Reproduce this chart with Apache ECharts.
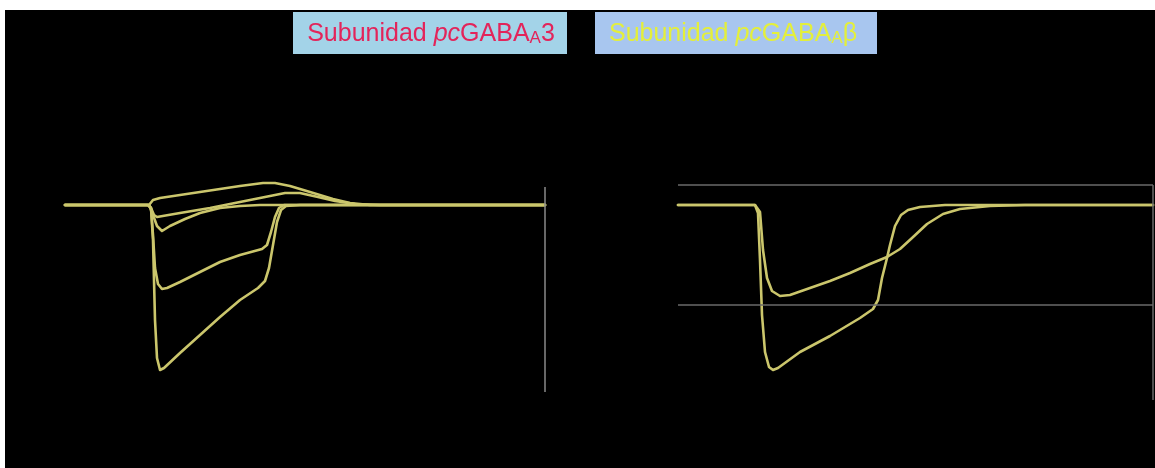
<!DOCTYPE html>
<html>
<head>
<meta charset="utf-8">
<style>
  html, body { margin: 0; padding: 0; background: #fff; }
  #chart { width: 1155px; height: 468px; }
</style>
<script src="https://cdn.jsdelivr.net/npm/echarts@6/dist/echarts.min.js"></script>
</head>
<body>
<div id="chart"></div>
<script>
// Current traces: [time (s), current (nA)]
// Left panel: pcGABAA3 subunit, five agonist applications
const a3Trace1 = [[0,0],[8.4,0],[8.5,5],[8.8,25],[9.5,35],[13.5,65],[17.5,95],[19.8,110],[21.0,110],[22.5,95],[24.5,65],[26.8,30],[28.5,10],[30.5,0],[48,0]];
const a3Trace2 = [[0,0],[8.4,0],[8.6,-15],[8.9,-50],[9.2,-60],[11.5,-40],[14.5,-15],[16.5,5],[19.5,35],[22.0,60],[23.5,60],[25.3,40],[27.0,20],[29.0,5],[31.5,0],[48,0]];
const a3Trace3 = [[0,0],[8.4,0],[8.5,-10],[8.8,-50],[9.2,-105],[9.7,-130],[10.5,-105],[12.0,-70],[13.5,-40],[15.5,-15],[17.5,-5],[19.5,0],[48,0]];
const a3Trace4 = [[0,0],[8.3,0],[8.6,-15],[8.8,-150],[9.0,-315],[9.3,-395],[9.7,-420],[10.2,-415],[11.5,-385],[13.5,-335],[15.5,-285],[17.5,-250],[19.7,-220],[20.2,-200],[20.6,-135],[21.0,-60],[21.4,-15],[21.9,0],[48,0]];
const a3Trace5 = [[0,0],[8.3,0],[8.6,-15],[8.8,-175],[9.0,-575],[9.2,-765],[9.5,-825],[9.9,-815],[11.5,-740],[13.5,-650],[15.5,-560],[17.5,-475],[19.3,-415],[20.0,-380],[20.4,-315],[20.8,-200],[21.2,-85],[21.6,-25],[22.1,-5],[23.5,0],[48,0]];

// Right panel: pcGABAAβ subunit, two agonist applications
const abTrace1 = [[0,0],[7.7,0],[8.0,-40],[8.2,-275],[8.4,-550],[8.7,-735],[9.1,-810],[9.5,-825],[10.0,-815],[12.2,-735],[15.2,-655],[18.2,-565],[19.5,-520],[20.0,-475],[20.4,-365],[20.9,-265],[21.2,-200],[21.7,-105],[22.3,-50],[23.0,-25],[24.2,-10],[26.7,0],[47.5,0]];
const abTrace2 = [[0,0],[7.7,0],[8.2,-35],[8.5,-225],[8.9,-365],[9.4,-430],[10.2,-455],[11.2,-450],[13.2,-415],[15.2,-380],[17.2,-340],[19.2,-295],[20.9,-260],[22.2,-220],[23.4,-165],[24.9,-95],[26.5,-45],[28.2,-20],[31.2,-5],[34.7,0],[47.5,0]];

// Reference rules
const a3ScaleBar = [48, 90, -935];          // vertical rule: time, top, bottom
const abLevels = [100, -500];               // horizontal reference currents
const abScaleBar = [47.5, 100, -975];

const titleA3 = ['Subunidad ', 'pc', 'GABA', 'A', '3'];
const titleAb = ['Subunidad ', 'pc', 'GABA', 'A', 'β'];

const traceColor = '#cbc66c';
const ruleColor = '#6a6a6a';

function traceSeries(data, gridIndex, extra) {
  return Object.assign({
    type: 'line',
    data: data,
    xAxisIndex: gridIndex,
    yAxisIndex: gridIndex,
    showSymbol: false,
    smooth: false,
    clip: false,
    silent: true,
    lineStyle: { color: traceColor, width: 2.6, join: 'round', cap: 'round' }
  }, extra || {});
}

function rule(x1, y1, x2, y2) {
  return [{ coord: [x1, y1] }, { coord: [x2, y2] }];
}

const hiddenAxis = {
  type: 'value',
  axisLine: { show: false },
  axisTick: { show: false },
  axisLabel: { show: false },
  splitLine: { show: false }
};

const chart = echarts.init(document.getElementById('chart'), null, { renderer: 'canvas' });

function rich(color) {
  const base = { fill: color, fontSize: 25, fontFamily: 'Liberation Sans, Arial, sans-serif' };
  return {
    r: Object.assign({}, base),
    i: Object.assign({}, base, { fontStyle: 'italic' }),
    s: Object.assign({}, base, { fontSize: 17, verticalAlign: 'bottom' })
  };
}
function richText(parts) {
  return '{r|' + parts[0] + '}{i|' + parts[1] + '}{r|' + parts[2] + '}{s|' + parts[3] + '}{r|' + parts[4] + '}';
}

chart.setOption({
  backgroundColor: 'transparent',
  animation: false,
  grid: [
    { left: 65, top: 175, width: 480, height: 225 },
    { left: 678, top: 175, width: 475, height: 225 }
  ],
  xAxis: [
    Object.assign({}, hiddenAxis, { gridIndex: 0, min: 0, max: 48 }),
    Object.assign({}, hiddenAxis, { gridIndex: 1, min: 0, max: 47.5 })
  ],
  yAxis: [
    Object.assign({}, hiddenAxis, { gridIndex: 0, min: -975, max: 150 }),
    Object.assign({}, hiddenAxis, { gridIndex: 1, min: -975, max: 150 })
  ],
  graphic: [
    { type: 'rect', z: -10, silent: true, shape: { x: 5, y: 10, width: 1150, height: 458 }, style: { fill: '#000' } },
    { type: 'rect', silent: true, shape: { x: 293, y: 12, width: 274, height: 42 }, style: { fill: '#a3d3e8' } },
    { type: 'text', silent: true, x: 431, y: 34,
      style: { text: richText(titleA3), rich: rich('#e3245a'), align: 'center', verticalAlign: 'middle' } },
    { type: 'rect', silent: true, shape: { x: 595, y: 12, width: 282, height: 42 }, style: { fill: '#a8c6ef' } },
    { type: 'text', silent: true, x: 733, y: 34,
      style: { text: richText(titleAb), rich: rich('#e4ef3a'), align: 'center', verticalAlign: 'middle' } }
  ],
  series: [
    traceSeries(a3Trace1, 0, {
      markLine: {
        silent: true, symbol: 'none', label: { show: false },
        lineStyle: { color: '#8a8a8a', width: 1.5, type: 'solid' },
        data: [rule(a3ScaleBar[0], a3ScaleBar[1], a3ScaleBar[0], a3ScaleBar[2])]
      }
    }),
    traceSeries(a3Trace2, 0),
    traceSeries(a3Trace3, 0),
    traceSeries(a3Trace4, 0),
    traceSeries(a3Trace5, 0),
    traceSeries(abTrace1, 1, {
      markLine: {
        silent: true, symbol: 'none', label: { show: false },
        lineStyle: { color: ruleColor, width: 1.5, type: 'solid' },
        data: [
          rule(0, abLevels[0], abScaleBar[0], abLevels[0]),
          rule(0, abLevels[1], abScaleBar[0], abLevels[1]),
          rule(abScaleBar[0], abScaleBar[1], abScaleBar[0], abScaleBar[2])
        ]
      }
    }),
    traceSeries(abTrace2, 1)
  ]
});
</script>
</body>
</html>
